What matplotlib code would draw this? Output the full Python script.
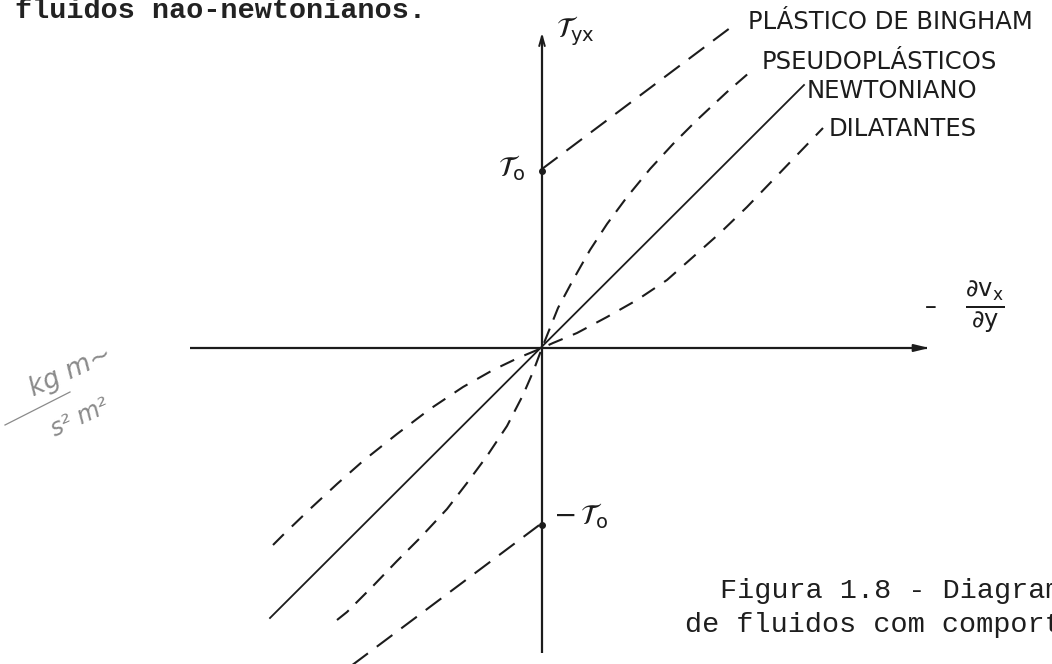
import numpy as np
import matplotlib.pyplot as plt

plt.rcParams['lines.scale_dashes'] = False
plt.rcParams['mathtext.fontset'] = 'dejavusans'

# shear-rate / shear-stress readings for each fluid type (origin at the axes cross)
newton_x = [-2.72, 2.62]
newton_y = [-2.70, 2.63]

pseudo_x = [-2.05, -1.95, -1.69, -1.45, -1.22, -0.95, -0.75, -0.55, -0.35, -0.19, -0.09, 0.0,
            0.16, 0.31, 0.48, 0.65, 0.85, 1.08, 1.31, 1.55, 1.85, 2.08]
pseudo_y = [-2.72, -2.64, -2.38, -2.13, -1.90, -1.61, -1.35, -1.08, -0.78, -0.47, -0.24, 0.0,
            0.40, 0.68, 0.98, 1.24, 1.51, 1.79, 2.04, 2.28, 2.56, 2.76]

dilat_x = [-2.69, -2.59, -2.32, -2.05, -1.79, -1.45, -1.12, -0.79, -0.49, -0.24, 0.0,
           0.11, 0.35, 0.65, 0.95, 1.25, 1.51, 1.78, 2.05, 2.31, 2.55, 2.81]
dilat_y = [-1.97, -1.87, -1.61, -1.36, -1.13, -0.86, -0.61, -0.39, -0.22, -0.10, 0.0,
           0.05, 0.15, 0.31, 0.48, 0.68, 0.91, 1.15, 1.41, 1.68, 1.93, 2.20]

tau0 = 1.77
bingham_up_x = [0.0, 1.92]
bingham_up_y = [1.79, 3.23]
bingham_lo_x = [-1.95, 0.0]
bingham_lo_y = [-3.21, -1.75]

labels = ['PLÁSTICO DE BINGHAM', 'PSEUDOPLÁSTICOS', 'NEWTONIANO', 'DILATANTES']
label_x = [2.06, 2.20, 2.65, 2.87]
label_y = [3.26, 2.86, 2.57, 2.19]

ink = '#1c1c1c'

fig = plt.figure(figsize=(10.52, 6.64), dpi=100)
fig.patch.set_facecolor('white')
ax = fig.add_axes([0, 0, 1, 1])
ax.set_xlim(-5.42, 5.10)
ax.set_ylim(-3.16, 3.48)
ax.axis('off')

# coordinate axes with arrow heads
ax.plot([-3.52, 3.85], [0, 0], color=ink, lw=1.6, solid_capstyle='butt')
ax.annotate('', xy=(3.90, 0), xytext=(3.70, 0),
            arrowprops=dict(arrowstyle='-|>,head_length=0.9,head_width=0.22', color=ink, lw=1.4))
ax.plot([0, 0], [-3.05, 3.12], color=ink, lw=1.6, solid_capstyle='butt')
ax.annotate('', xy=(0, 3.18), xytext=(0, 3.00),
            arrowprops=dict(arrowstyle='->,head_length=0.7,head_width=0.2', color=ink, lw=1.4))

# flow curves
ax.plot(newton_x, newton_y, color=ink, lw=1.3)
ax.plot(pseudo_x, pseudo_y, color=ink, lw=1.5, dashes=(11, 7))
ax.plot(dilat_x, dilat_y, color=ink, lw=1.5, dashes=(11, 8))
ax.plot(bingham_up_x, bingham_up_y, color=ink, lw=1.5, dashes=(14, 8))
ax.plot(bingham_lo_x, bingham_lo_y, color=ink, lw=1.5, dashes=(14, 8))
ax.plot([0, 0], [tau0, -tau0], 'o', color=ink, ms=4, ls='none')

for txt, lx, ly in zip(labels, label_x, label_y):
    ax.text(lx, ly, txt, fontsize=17.5, va='center', ha='left', color=ink,
            family='DejaVu Sans')

# axis symbols
ax.text(0.14, 3.17, r'$\mathcal{T}_{\mathrm{yx}}$', fontsize=20, va='center', color=ink)
ax.text(-0.17, 1.80, r'$\mathcal{T}_{\mathrm{o}}$', fontsize=20, va='center', ha='right', color=ink)
ax.text(0.11, -1.68, r'$-\,\mathcal{T}_{\mathrm{o}}$', fontsize=20, va='center', ha='left', color=ink)
ax.text(3.83, 0.41, '–', fontsize=17, va='center', ha='left', color=ink)
ax.text(4.43, 0.41, r'$\frac{\partial \mathrm{v_x}}{\partial \mathrm{y}}$', fontsize=25,
        va='center', ha='center', color=ink)

# typed text of the page
mono = 'Liberation Mono'
ax.text(-5.27, 3.30, 'fluidos nao-newtonianos.', fontsize=20.5, family=mono,
        fontweight='bold', color='#222222', va='baseline')
ax.text(1.78, -2.50, 'Figura 1.8 - Diagrama', fontsize=20.5, family=mono,
        color='#1e1e1e', va='baseline')
ax.text(1.43, -2.84, 'de fluidos com comportamento', fontsize=20.5, family=mono,
        color='#1e1e1e', va='baseline')

# pencil note in the margin
pencil = '#8a8a8a'
ax.text(-4.72, -0.24, 'kg m~', fontsize=19, rotation=25, color=pencil, style='italic',
        ha='center', va='center')
ax.plot([-5.37, -4.72], [-0.77, -0.44], color=pencil, lw=0.9)
ax.text(-4.62, -0.70, 's² m²', fontsize=17, rotation=25, color=pencil, style='italic',
        ha='center', va='center')

fig.savefig('out.png', dpi=100, facecolor='white')
